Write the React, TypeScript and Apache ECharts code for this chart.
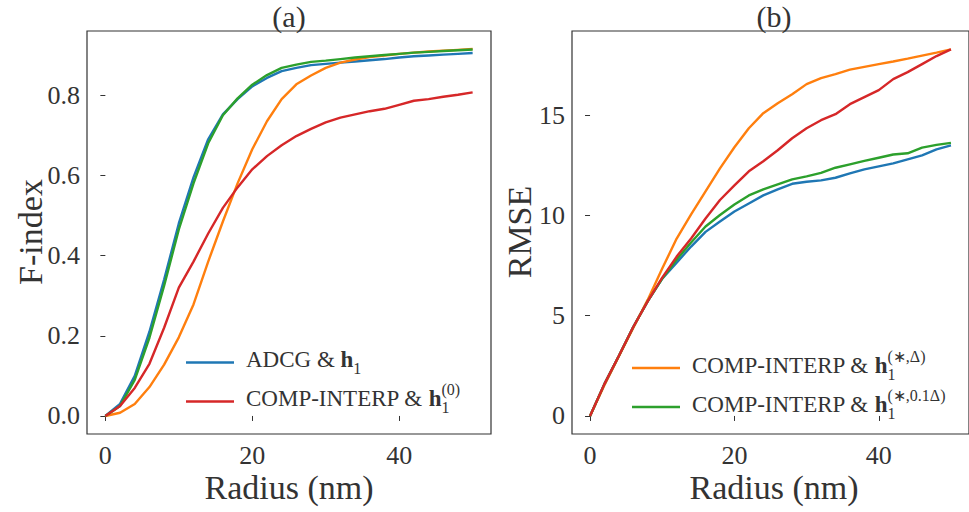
import React, { useEffect, useRef } from "react";
import * as echarts from "echarts";

// ---------- data ----------
const RADIUS = [0, 2, 4, 6, 8, 10, 12, 14, 16, 18, 20, 22, 24, 26, 28, 30, 32, 34, 36, 38, 40, 42, 44, 46, 48, 50];

// (a) F-index
const F_ADCG = [0, 0.03, 0.1, 0.21, 0.34, 0.48, 0.595, 0.69, 0.752, 0.79, 0.822, 0.843, 0.86, 0.868, 0.875, 0.878, 0.881, 0.884, 0.887, 0.89, 0.894, 0.897, 0.899, 0.901, 0.903, 0.905];
const F_DELTA = [0, 0.008, 0.03, 0.072, 0.128, 0.196, 0.278, 0.385, 0.485, 0.58, 0.665, 0.735, 0.79, 0.827, 0.849, 0.868, 0.881, 0.889, 0.895, 0.899, 0.903, 0.906, 0.909, 0.911, 0.913, 0.915];
const F_DELTA01 = [0, 0.025, 0.09, 0.195, 0.325, 0.465, 0.58, 0.68, 0.75, 0.792, 0.826, 0.85, 0.868, 0.876, 0.883, 0.886, 0.89, 0.894, 0.897, 0.9, 0.903, 0.906, 0.908, 0.91, 0.912, 0.914];
const F_H0 = [0, 0.025, 0.07, 0.13, 0.22, 0.32, 0.385, 0.455, 0.519, 0.57, 0.615, 0.648, 0.675, 0.698, 0.716, 0.732, 0.744, 0.752, 0.76, 0.766, 0.776, 0.786, 0.79, 0.796, 0.801, 0.807];

// (b) RMSE
const R_ADCG = [0, 1.6, 3.0, 4.45, 5.73, 6.85, 7.65, 8.45, 9.18, 9.7, 10.2, 10.6, 11.0, 11.3, 11.58, 11.68, 11.75, 11.88, 12.1, 12.3, 12.45, 12.6, 12.8, 13.0, 13.3, 13.5];
const R_DELTA = [0, 1.55, 2.98, 4.4, 5.8, 7.35, 8.85, 10.05, 11.2, 12.35, 13.4, 14.35, 15.1, 15.6, 16.05, 16.55, 16.85, 17.05, 17.27, 17.41, 17.55, 17.68, 17.82, 17.97, 18.12, 18.28];
const R_DELTA01 = [0, 1.6, 3.0, 4.45, 5.73, 6.85, 7.8, 8.65, 9.45, 10.02, 10.55, 11.0, 11.3, 11.55, 11.8, 11.95, 12.12, 12.38, 12.55, 12.72, 12.88, 13.04, 13.1, 13.38, 13.52, 13.62];
const R_H0 = [0, 1.6, 3.0, 4.45, 5.73, 6.9, 7.95, 8.85, 9.85, 10.77, 11.5, 12.2, 12.7, 13.25, 13.85, 14.35, 14.75, 15.05, 15.55, 15.9, 16.25, 16.8, 17.15, 17.55, 17.95, 18.28];

const X_TICKS = [0, 20, 40];
const F_TICKS = [0, 0.2, 0.4, 0.6, 0.8];
const R_TICKS = [0, 5, 10, 15];

const N_ADCG = "ADCG & h1";
const N_DELTA = "COMP-INTERP & h1(*,Δ)";
const N_DELTA01 = "COMP-INTERP & h1(*,0.1Δ)";
const N_H0 = "COMP-INTERP & h1(0)";

const COLORS: Record<string, string> = {
  [N_ADCG]: "#1f77b4",
  [N_DELTA]: "#ff7f0e",
  [N_DELTA01]: "#2ca02c",
  [N_H0]: "#d62728",
};

// ---------- styling ----------
const FONT = "Liberation Serif";
const TXT = "#333333";

const LEGEND_TEXT: Record<string, string> = {
  [N_ADCG]: "{t|ADCG & }{b|h}{sub|1}",
  [N_H0]: "{t|COMP-INTERP & }{b|h}{subz|1}{sup|(0)}",
  [N_DELTA]: "{t|COMP-INTERP & }{b|h}{subz|1}{sup|(∗,Δ)}",
  [N_DELTA01]: "{t|COMP-INTERP & }{b|h}{subz|1}{sup|(∗,0.1Δ)}",
};

const rich = {
  t: { fontSize: 23, fontFamily: FONT, color: TXT, lineHeight: 34 },
  b: { fontSize: 23, fontFamily: FONT, color: TXT, fontWeight: "bold", lineHeight: 34 },
  sub: { fontSize: 16, fontFamily: FONT, color: TXT, verticalAlign: "bottom", lineHeight: 22 },
  subz: { fontSize: 16, fontFamily: FONT, color: TXT, verticalAlign: "bottom", lineHeight: 22, width: 0.01 },
  sup: { fontSize: 16, fontFamily: FONT, color: TXT, verticalAlign: "top", lineHeight: 20 },
};

function makeLegend(data: string[], left: number, top: number) {
  return {
    show: true,
    orient: "vertical",
    left,
    top,
    data: data.map((name) => ({ name, icon: "rect" })),
    itemWidth: 48,
    itemHeight: 2.5,
    itemGap: 5,
    selectedMode: false,
    formatter: (name: string) => LEGEND_TEXT[name],
    textStyle: { fontFamily: FONT, fontSize: 23, color: TXT, padding: [0, 0, 6, 7], rich },
  };
}

function xAxis(gridIndex: number) {
  return {
    gridIndex,
    type: "value",
    min: -2.5,
    max: 52.5,
    axisLine: { show: false },
    splitLine: { show: false },
    axisTick: { show: true, length: 5, customValues: X_TICKS, lineStyle: { color: TXT, width: 1 } },
    axisLabel: { customValues: X_TICKS, fontSize: 26, fontFamily: FONT, color: TXT, margin: 8 },
  };
}

function yAxis(gridIndex: number, min: number, max: number, ticks: number[], fmt: (v: number) => string) {
  return {
    gridIndex,
    type: "value",
    min,
    max,
    axisLine: { show: false },
    splitLine: { show: false },
    axisTick: { show: true, length: 5, customValues: ticks, lineStyle: { color: TXT, width: 1 } },
    axisLabel: { customValues: ticks, fontSize: 26, fontFamily: FONT, color: TXT, margin: 7, formatter: fmt },
  };
}

function line(name: string, values: number[], idx: number) {
  return {
    name,
    type: "line",
    xAxisIndex: idx,
    yAxisIndex: idx,
    data: RADIUS.map((r, i) => [r, values[i]]),
    showSymbol: false,
    symbol: "none",
    smooth: false,
    lineStyle: { color: COLORS[name], width: 2.4 },
    itemStyle: { color: COLORS[name] },
    emphasis: { disabled: true },
  };
}

function label(text: string, x: number, y: number, size: number, rotation = 0) {
  return {
    type: "text",
    x,
    y,
    rotation,
    style: { text, align: "center", verticalAlign: "middle", fontSize: size, fontFamily: FONT, fill: TXT },
  };
}

const GRID_COMMON = { top: 31, width: 404, height: 403, show: true, borderColor: TXT, borderWidth: 1.2, backgroundColor: "transparent", containLabel: false };

const option = {
  animation: false,
  backgroundColor: "#ffffff",
  textStyle: { fontFamily: FONT },
  grid: [
    { ...GRID_COMMON, left: 87 },
    { ...GRID_COMMON, left: 572 },
  ],
  xAxis: [xAxis(0), xAxis(1)],
  yAxis: [
    yAxis(0, -0.045, 0.96, F_TICKS, (v: number) => v.toFixed(1)),
    yAxis(1, -0.9, 19.2, R_TICKS, (v: number) => String(v)),
  ],
  legend: [makeLegend([N_ADCG, N_H0], 181, 343), makeLegend([N_DELTA, N_DELTA01], 627, 343)],
  graphic: [
    label("(a)", 289, 16, 30),
    label("(b)", 774, 16, 30),
    label("Radius (nm)", 289, 487, 34),
    label("Radius (nm)", 774, 487, 34),
    label("F-index", 30, 232, 34, Math.PI / 2),
    label("RMSE", 519, 232, 34, Math.PI / 2),
  ],
  series: [
    line(N_ADCG, F_ADCG, 0),
    line(N_DELTA, F_DELTA, 0),
    line(N_DELTA01, F_DELTA01, 0),
    line(N_H0, F_H0, 0),
    line(N_ADCG, R_ADCG, 1),
    line(N_DELTA, R_DELTA, 1),
    line(N_DELTA01, R_DELTA01, 1),
    line(N_H0, R_H0, 1),
  ],
};

export default function App() {
  const ref = useRef<HTMLDivElement>(null);
  useEffect(() => {
    document.body.style.margin = "0";
    const chart = echarts.init(ref.current as HTMLDivElement, null, { renderer: "svg" });
    chart.setOption(option as any);
    return () => chart.dispose();
  }, []);
  return <div ref={ref} style={{ width: 969, height: 512 }} />;
}
